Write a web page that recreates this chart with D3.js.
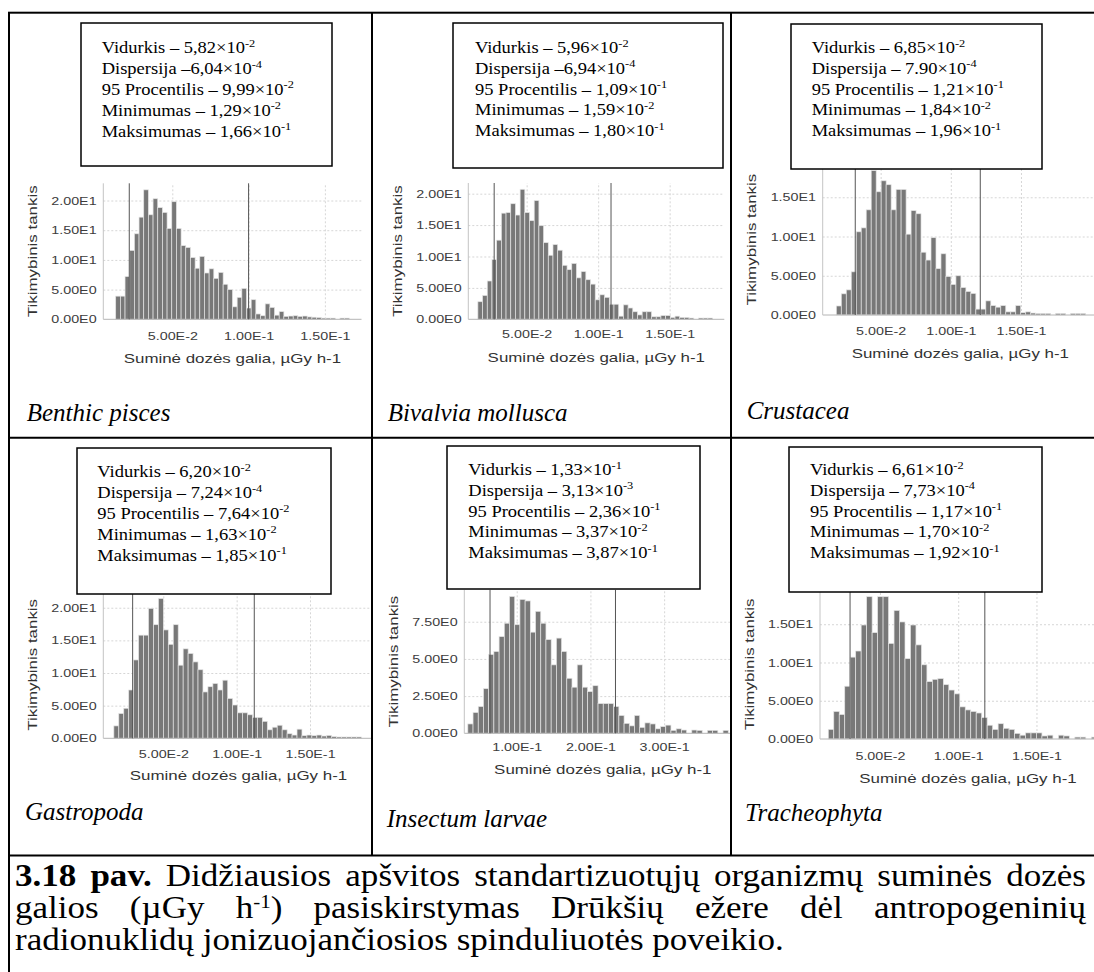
<!DOCTYPE html>
<html>
<head>
<meta charset="utf-8">
<script src="https://cdn.jsdelivr.net/npm/d3@7"></script>
<style>
  body { margin: 0; background: #fff; }
  svg { display: block; }
</style>
</head>
<body>
<script>
const W = 1094, H = 972;

// ---- data ----
const species = ["Benthic pisces", "Bivalvia mollusca", "Crustacea", "Gastropoda", "Insectum larvae", "Tracheophyta"];

// stats box lines: [text, exponent]
const statsBenthic = [["Vidurkis – 5,82×10", "-2"], ["Dispersija –6,04×10", "-4"], ["95 Procentilis – 9,99×10", "-2"], ["Minimumas – 1,29×10", "-2"], ["Maksimumas – 1,66×10", "-1"]];
const statsBivalvia = [["Vidurkis – 5,96×10", "-2"], ["Dispersija –6,94×10", "-4"], ["95 Procentilis – 1,09×10", "-1"], ["Minimumas – 1,59×10", "-2"], ["Maksimumas – 1,80×10", "-1"]];
const statsCrustacea = [["Vidurkis – 6,85×10", "-2"], ["Dispersija – 7.90×10", "-4"], ["95 Procentilis – 1,21×10", "-1"], ["Minimumas – 1,84×10", "-2"], ["Maksimumas – 1,96×10", "-1"]];
const statsGastropoda = [["Vidurkis – 6,20×10", "-2"], ["Dispersija – 7,24×10", "-4"], ["95 Procentilis – 7,64×10", "-2"], ["Minimumas – 1,63×10", "-2"], ["Maksimumas – 1,85×10", "-1"]];
const statsInsectum = [["Vidurkis – 1,33×10", "-1"], ["Dispersija – 3,13×10", "-3"], ["95 Procentilis – 2,36×10", "-1"], ["Minimumas – 3,37×10", "-2"], ["Maksimumas – 3,87×10", "-1"]];
const statsTracheo = [["Vidurkis – 6,61×10", "-2"], ["Dispersija – 7,73×10", "-4"], ["95 Procentilis – 1,17×10", "-1"], ["Minimumas – 1,70×10", "-2"], ["Maksimumas – 1,92×10", "-1"]];

// histogram range (min, max) - 50 equal bins between them
const ranges = [[0.0129, 0.166], [0.0159, 0.180], [0.0184, 0.196], [0.0163, 0.185], [0.0337, 0.387], [0.0170, 0.192]];

// probability density per bin
const densBenthic = [3.9, 3.9, 7.2, 11.6, 14.4, 17.2, 21.8, 17.6, 20.3, 18.8, 18.0, 15.3, 19.8, 15.3, 12.4, 12.1, 10.4, 8.6, 10.6, 7.8,
  8.5, 6.9, 7.9, 5.9, 5.0, 2.1, 3.7, 5.2, 1.9, 3.3, 0.9, 0.6, 2.6, 2.0, 0.7, 1.3, 0.5, 0.55, 0.6, 0.5,
  0.55, 0.4, 0.35, 0.3, 0.2, 0.2, 0.2, 0, 0.2, 0.2];
const densBivalvia = [2.8, 3.8, 6.1, 9.5, 12.6, 16.9, 17.0, 18.4, 16.6, 20.7, 17.0, 15.7, 18.9, 14.9, 12.2, 10.2, 11.9, 11.0, 8.6, 7.9,
  8.9, 6.6, 7.6, 6.3, 5.6, 3.1, 3.9, 3.5, 2.4, 2.4, 0.5, 2.3, 1.8, 1.2, 0.7, 1.2, 1.2, 0.4, 0.4, 0.6,
  0.6, 0.3, 0.5, 0.3, 0.3, 0.2, 0, 0.2, 0.2, 0.2];
const densCrustacea = [1.15, 2.7, 3.2, 5.5, 10.6, 11.1, 13.4, 18.4, 15.7, 17.1, 16.6, 13.4, 16.0, 16.0, 10.3, 13.3, 12.9, 8.0, 7.0, 9.85,
  5.9, 7.8, 4.9, 3.9, 5.0, 3.5, 3.0, 2.75, 0.75, 0.75, 1.8, 1.2, 1.0, 1.2, 0.4, 0.4, 1.2, 0.3, 0.4, 0.25,
  0.2, 0.2, 0.2, 0, 0.2, 0.2, 0, 0.2, 0.2, 0.2];
const densGastropoda = [1.9, 3.8, 4.6, 7.4, 12.0, 15.8, 15.8, 19.9, 17.4, 21.4, 16.6, 14.4, 17.4, 11.2, 13.7, 13.0, 11.7, 10.5, 7.1, 7.9,
  8.4, 7.4, 8.9, 6.1, 5.1, 3.9, 3.9, 3.6, 3.2, 3.2, 2.6, 1.3, 1.7, 2.0, 1.3, 0.7, 0.5, 1.4, 0.4, 0.5,
  0.4, 0.5, 0.35, 0.45, 0.25, 0.2, 0.2, 0.2, 0.2, 0.2];
const densInsectum = [0.63, 1.4, 1.8, 3.0, 5.3, 5.5, 6.5, 7.4, 9.2, 7.3, 9.0, 8.9, 6.8, 8.2, 7.4, 6.3, 4.6, 6.4, 5.5, 3.7,
  3.1, 4.6, 3.1, 2.8, 3.2, 2.0, 2.0, 2.0, 1.8, 1.2, 0.67, 0.5, 1.2, 0.4, 0.7, 0.63, 0.3, 0.45, 0.55, 0.2,
  0.3, 0.22, 0, 0.22, 0.2, 0, 0.2, 0.2, 0, 0.2];
const densTracheo = [1.26, 3.6, 3.2, 6.9, 10.7, 11.5, 14.9, 18.6, 13.9, 18.6, 18.6, 12.5, 16.8, 15.3, 10.5, 14.9, 12.3, 9.7, 7.5, 7.8,
  7.9, 7.1, 6.4, 5.9, 4.2, 3.8, 3.6, 3.4, 2.8, 1.8, 1.26, 2.0, 1.4, 1.26, 0.74, 0.5, 0.8, 0.8, 0.8, 0.4,
  0.5, 0, 0.5, 0.4, 0, 0.25, 0.25, 0, 0.25, 0.25];

// vertical marker lines (5th and 95th percentile) as drawn
const markers = [[0.0218, 0.100], [0.0273, 0.109], [0.0319, 0.121], [0.0291, 0.112], [0.0638, 0.234], [0.0309, 0.117]];

const xTicks = [[0.05, 0.1, 0.15], [0.05, 0.1, 0.15], [0.05, 0.1, 0.15], [0.05, 0.1, 0.15], [0.1, 0.2, 0.3], [0.05, 0.1, 0.15]];
const yTicks = [[0, 5, 10, 15, 20], [0, 5, 10, 15, 20], [0, 5, 10, 15], [0, 5, 10, 15, 20], [0, 2.5, 5, 7.5], [0, 5, 10, 15]];
const xDomains = [[0.00478, 0.174], [0.0092, 0.1882], [0.0087, 0.2049], [0.0091, 0.1934], [0.0289, 0.4047], [0.0117, 0.2008]];
const yMaxes = [22.9, 21.7, 19.2, 22.5, 9.64, 19.5];

const xTitle = "Suminė dozės galia, µGy h-1";
const yTitle = "Tikimybinis tankis";

const stats = [statsBenthic, statsBivalvia, statsCrustacea, statsGastropoda, statsInsectum, statsTracheo];
const dens = [densBenthic, densBivalvia, densCrustacea, densGastropoda, densInsectum, densTracheo];

// caption, word by word: [text, style]
const captionLines = [
  [[["3.18", "b"]], [["pav.", "b"]], [["Didžiausios"]], [["apšvitos"]], [["standartizuotųjų"]], [["organizmų"]], [["suminės"]], [["dozės"]]],
  [[["galios"]], [["(µGy"]], [["h"], ["-1", "sup"], [")"]], [["pasiskirstymas"]], [["Drūkšių"]], [["ežere"]], [["dėl"]], [["antropogeninių"]]],
  [[["radionuklidų"]], [["jonizuojančiosios"]], [["spinduliuotės"]], [["poveikio."]]]
];

// ---- layout ----
const cols = [9, 372, 731, 1096];
const rows = [12.7, 437.7, 855.5];
const layout = [
  { left: 103.3, right: 361.5, top: 183.3, bottom: 319.3, box: [81, 23, 332, 166], text: [101.7, 53.3], label: [26.7, 420.7], xl: 21, xt: 44 },
  { left: 468.3, right: 724.3, top: 183, bottom: 319.3, box: [453, 23, 723, 168], text: [475, 53], label: [387.7, 420.7], xl: 18.5, xt: 42.4 },
  { left: 822.7, right: 1098, top: 164.3, bottom: 315, box: [791, 24, 1042, 169], text: [811.7, 53], label: [746.7, 419.3], xl: 20.3, xt: 43.3 },
  { left: 103.3, right: 373.7, top: 591.4, bottom: 738.3, box: [77, 448, 331, 594], text: [97.3, 477.3], label: [25, 820], xl: 20, xt: 41.7 },
  { left: 464.3, right: 741.3, top: 589.9, bottom: 733.3, box: [447, 446, 700, 589], text: [468.3, 475], label: [386.7, 827], xl: 17.7, xt: 41 },
  { left: 820, right: 1116, top: 589.8, bottom: 739, box: [789, 447, 1042, 592], text: [810, 475], label: [745, 821], xl: 21.3, xt: 44.3 }
];

const serif = "'Liberation Serif', 'Times New Roman', serif";
const sans = "'Liberation Sans', Arial, sans-serif";
const chartStretch = 1.3;
const statsStretch = 1.12;

const svg = d3.select("body").append("svg")
  .attr("width", W)
  .attr("height", H);

// exponent style tick labels: 5.00E-2, 2.00E1
const fmtE = d => d.toExponential(2).replace("e+", "E").replace("e", "E");

function stretch(sel, k) {
  sel.each(function() {
    const L = this.getComputedTextLength();
    d3.select(this).attr("textLength", L * k).attr("lengthAdjust", "spacingAndGlyphs");
  });
}

const defs = svg.append("defs");

layout.forEach((p, i) => {
  const c = i % 3, r = Math.floor(i / 3);
  defs.append("clipPath").attr("id", "cell" + i)
    .append("rect")
    .attr("x", cols[c] + 1).attr("y", rows[r] + 1)
    .attr("width", cols[c + 1] - cols[c] - 2).attr("height", rows[r + 1] - rows[r] - 2);

  const g = svg.append("g").attr("clip-path", `url(#cell${i})`);

  const x = d3.scaleLinear().domain(xDomains[i]).range([p.left, p.right]);
  const y = d3.scaleLinear().domain([0, yMaxes[i]]).range([p.bottom, p.top]);

  // grid + tick labels
  const ya = g.append("g")
    .attr("transform", `translate(${p.left},0)`)
    .call(d3.axisLeft(y).tickValues(yTicks[i]).tickFormat(fmtE)
      .tickSize(-(p.right - p.left)).tickPadding(6.7));
  ya.select(".domain").remove();
  ya.selectAll(".tick line")
    .attr("stroke", d => d === 0 ? "none" : "#d6d6d6")
    .attr("stroke-dasharray", "2,2");

  const xa = g.append("g")
    .attr("transform", `translate(0,${p.bottom})`)
    .call(d3.axisBottom(x).tickValues(xTicks[i]).tickFormat(fmtE)
      .tickSize(-(p.bottom - p.top)).tickPadding(0));
  xa.select(".domain").remove();
  xa.selectAll(".tick line").attr("stroke", "#d6d6d6").attr("stroke-dasharray", "2,2");
  xa.selectAll(".tick text").attr("dy", null).attr("y", p.xl);

  g.selectAll(".tick text")
    .attr("fill", "#3c3c3c")
    .style("font-family", sans)
    .style("font-size", "11px");
  stretch(g.selectAll(".tick text"), chartStretch);

  // bars
  const [lo, hi] = ranges[i];
  const step = (hi - lo) / dens[i].length;
  g.append("g").selectAll("rect")
    .data(dens[i].map((d, k) => ({ d, k })).filter(o => o.d > 0))
    .join("rect")
    .attr("x", o => x(lo + o.k * step))
    .attr("width", o => x(lo + (o.k + 1) * step) - x(lo + o.k * step))
    .attr("y", o => y(o.d))
    .attr("height", o => y(0) - y(o.d))
    .attr("fill", "#787878")
    .attr("stroke", "#e4e4e4")
    .attr("stroke-width", 0.7);

  // axis lines
  g.append("line")
    .attr("x1", p.left).attr("x2", p.right)
    .attr("y1", y(0)).attr("y2", y(0))
    .attr("stroke", "#b4b4b4");
  g.append("line")
    .attr("x1", p.left).attr("x2", p.left)
    .attr("y1", y(0)).attr("y2", y(yMaxes[i]))
    .attr("stroke", "#c4c4c4");

  // percentile markers
  g.selectAll(".marker").data(markers[i]).join("line")
    .attr("class", "marker")
    .attr("x1", d => x(d)).attr("x2", d => x(d))
    .attr("y1", y(0)).attr("y2", y(yMaxes[i]))
    .attr("stroke", "#555")
    .attr("stroke-width", 1);

  // axis titles
  const xt = g.append("text")
    .attr("x", (p.left + p.right) / 2)
    .attr("y", p.bottom + p.xt)
    .attr("text-anchor", "middle")
    .attr("fill", "#333")
    .style("font-family", sans)
    .style("font-size", "13px")
    .text(xTitle);
  stretch(xt, chartStretch);

  const ytx = p.left - 71, yty = (p.top + p.bottom) / 2;
  const yt = g.append("text")
    .attr("transform", `translate(${ytx},${yty}) rotate(-90)`)
    .attr("text-anchor", "middle")
    .attr("dy", "0.35em")
    .attr("fill", "#333")
    .style("font-family", sans)
    .style("font-size", "13px")
    .text(yTitle);
  stretch(yt, chartStretch);

  // stats box
  const [bx0, by0, bx1, by1] = p.box;
  g.append("rect")
    .attr("x", bx0).attr("y", by0)
    .attr("width", bx1 - bx0).attr("height", by1 - by0)
    .attr("fill", "#fff")
    .attr("stroke", "#000")
    .attr("stroke-width", 1.5);

  stats[i].forEach((line, j) => {
    const t = g.append("text")
      .attr("x", p.text[0])
      .attr("y", p.text[1] + j * 20.8)
      .style("font-family", serif)
      .style("font-size", "16.5px")
      .attr("fill", "#000");
    t.append("tspan").text(line[0]);
    t.append("tspan").attr("dy", -6.5).style("font-size", "11px").text(line[1]);
    stretch(t, statsStretch);
  });

  // species label
  g.append("text")
    .attr("x", p.label[0])
    .attr("y", p.label[1])
    .style("font-family", serif)
    .style("font-size", "25px")
    .style("font-style", "italic")
    .attr("fill", "#000")
    .text(species[i]);
});

// table lines
const grid = svg.append("g").attr("stroke", "#000").attr("stroke-width", 2).attr("fill", "none");
grid.append("rect").attr("x", cols[0]).attr("y", rows[0]).attr("width", 1096 - cols[0]).attr("height", 980 - rows[0]);
grid.append("line").attr("x1", cols[0]).attr("x2", 1096).attr("y1", rows[1]).attr("y2", rows[1]);
grid.append("line").attr("x1", cols[0]).attr("x2", 1096).attr("y1", rows[2]).attr("y2", rows[2]);
[cols[1], cols[2]].forEach(cx => {
  grid.append("line").attr("x1", cx).attr("x2", cx).attr("y1", rows[0]).attr("y2", rows[2]);
});

// caption, justified
const capSize = 31;
const capStretch = 1.13;
const capLeft = 15, capRight = 1086;
const capBase = [886, 918, 950];

captionLines.forEach((words, li) => {
  const nodes = words.map(word => {
    const t = svg.append("text")
      .attr("y", capBase[li])
      .style("font-family", serif)
      .style("font-size", capSize + "px")
      .attr("fill", "#000");
    word.forEach(([s, st]) => {
      const ts = t.append("tspan").text(s);
      if (st === "b") ts.style("font-weight", "bold");
      if (st === "sup") ts.style("font-size", (capSize * 0.6) + "px").attr("dy", -10);
      if (st === undefined && t.selectAll("tspan").size() > 1) ts.attr("dy", 10);
    });
    stretch(t, capStretch);
    return t;
  });
  const widths = nodes.map(n => +n.attr("textLength"));
  const total = d3.sum(widths);
  const gap = li < 2 ? (capRight - capLeft - total) / (words.length - 1) : capSize * 0.25 * capStretch;
  let cx = capLeft;
  nodes.forEach((n, k) => {
    n.attr("x", cx);
    cx += widths[k] + gap;
  });
});
</script>
</body>
</html>
